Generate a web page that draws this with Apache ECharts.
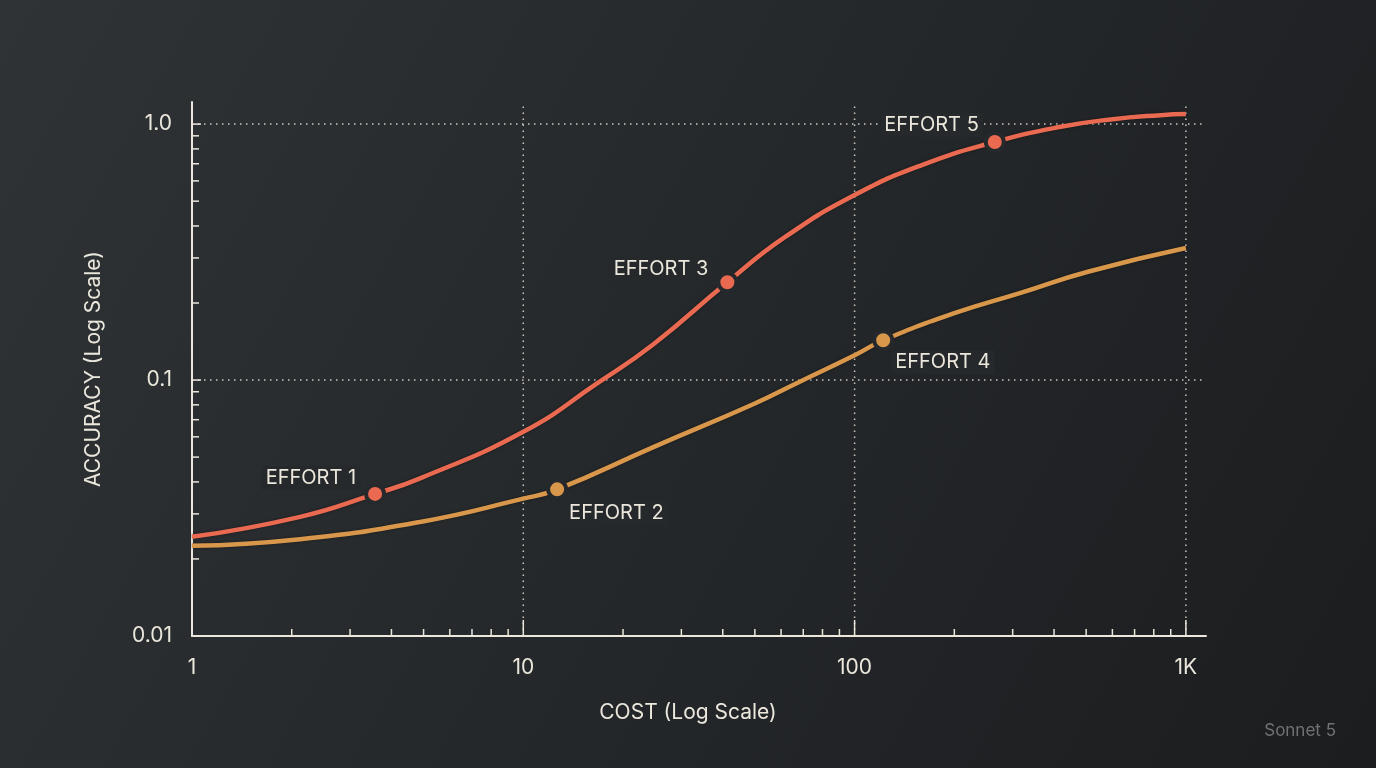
<!DOCTYPE html>
<html>
<head>
<meta charset="utf-8">
<title>Accuracy vs Cost</title>
<script src="https://cdn.jsdelivr.net/npm/echarts@6/dist/echarts.min.js"></script>
<style>
    html, body { margin: 0; padding: 0; background: #25282b; }
    #chart { width: 1376px; height: 768px; }
</style>
</head>
<body>
<div id="chart"></div>
<script>
// 紅色曲線（上）
var redCost = [1, 2.12, 3.57, 4.88, 10, 16.7, 24.7, 41.3, 61.1, 100, 161, 265, 419, 593, 840, 1000];
var redAcc = [0.0244, 0.0292, 0.0359, 0.0413, 0.0628, 0.097, 0.138, 0.241, 0.359, 0.528, 0.695, 0.851, 0.976, 1.043, 1.084, 1.094];

// 橙色曲線（下）
var orangeCost = [1, 2.12, 4.88, 10, 12.65, 24.7, 49.6, 67.1, 100, 122, 199, 317, 506, 1000];
var orangeAcc = [0.0225, 0.0239, 0.0279, 0.0344, 0.0374, 0.0547, 0.0806, 0.0974, 0.125, 0.143, 0.182, 0.219, 0.265, 0.328];

// effort 標記點
var effortNames = ['EFFORT 1', 'EFFORT 2', 'EFFORT 3', 'EFFORT 4', 'EFFORT 5'];
var effortCost = [3.57, 12.65, 41.3, 122, 265];
var effortAcc = [0.0359, 0.0374, 0.241, 0.143, 0.851];
var effortLine = ['red', 'orange', 'red', 'orange', 'red'];

// 刻度
var xMajor = [10, 100, 1000];
var xMinor = [2, 3, 4, 5, 6, 7, 8, 9, 20, 30, 40, 50, 60, 70, 80, 90, 200, 300, 400, 500, 600, 700, 800, 900];
var yMajor = [0.1, 1.0];
var yMinor = [0.02, 0.03, 0.04, 0.05, 0.06, 0.07, 0.08, 0.09, 0.2, 0.3, 0.4, 0.5, 0.6, 0.7, 0.8, 0.9];
var xLabels = { 0: '1', 1: '10', 2: '100', 3: '1K' };
var yLabels = { '-2': '0.01', '-1': '0.1', 0: '1.0' };

var X_MIN = 1, X_MAX = 1150, Y_MIN = 0.01, Y_MAX = 1.22;

var colors = { red: '#ea6a51', orange: '#d9974b' };
var ink = '#ebe7dc';
var bgMid = '#26292b';
var font = 'Inter, Roboto, sans-serif';

// label 的偏移
var labelPlace = {
    'EFFORT 1': { position: 'left', offset: [-4, -16] },
    'EFFORT 2': { position: 'right', offset: [-3, 24] },
    'EFFORT 3': { position: 'left', offset: [-4, -13] },
    'EFFORT 4': { position: 'right', offset: [-3, 22] },
    'EFFORT 5': { position: 'left', offset: [-1, -17] }
};

function powerLabel(table) {
    return function (v) {
        var e = Math.log10(v);
        var r = Math.round(e);
        if (Math.abs(e - r) > 1e-6) return '';
        return table[r] || '';
    };
}

function zip(a, b) {
    return a.map(function (v, i) { return [v, b[i]]; });
}

// 自己畫刻度與網格（log 軸兩端不是 10 的次方）
function lineSeries(data, build, style, z) {
    return {
        type: 'custom',
        silent: true,
        z: z,
        data: data,
        renderItem: function (params, api) {
            var s = build(api);
            return { type: 'line', shape: s, style: style };
        }
    };
}

var gridStyle = { stroke: 'rgba(232,228,218,0.85)', lineWidth: 1.5, lineDash: [1.5, 4.5] };
var tickStyle = { stroke: ink, lineWidth: 1.5 };

function xGrid() {
    return lineSeries(xMajor.map(function (v) { return [v, Y_MIN]; }), function (api) {
        var a = api.coord([api.value(0), Y_MIN]), b = api.coord([api.value(0), Y_MAX]);
        return { x1: a[0], y1: a[1], x2: b[0], y2: b[1] };
    }, gridStyle, 1);
}
function yGrid() {
    return lineSeries(yMajor.map(function (v) { return [X_MIN, v]; }), function (api) {
        var a = api.coord([X_MIN, api.value(1)]), b = api.coord([X_MAX, api.value(1)]);
        return { x1: a[0], y1: a[1], x2: b[0], y2: b[1] };
    }, gridStyle, 1);
}
function xTicks(values, len) {
    return lineSeries(values.map(function (v) { return [v, Y_MIN]; }), function (api) {
        var a = api.coord([api.value(0), Y_MIN]);
        return { x1: a[0], y1: a[1], x2: a[0], y2: a[1] - len };
    }, tickStyle, 2);
}
function yTicks(values, len) {
    return lineSeries(values.map(function (v) { return [X_MIN, v]; }), function (api) {
        var a = api.coord([X_MIN, api.value(1)]);
        return { x1: a[0], y1: a[1], x2: a[0] + len, y2: a[1] };
    }, tickStyle, 2);
}

function curve(cost, acc, color) {
    return {
        type: 'line',
        data: zip(cost, acc),
        smooth: 0.5,
        showSymbol: false,
        symbol: 'none',
        silent: true,
        z: 3,
        lineStyle: {
            color: color,
            width: 4.5,
            shadowColor: 'rgba(0,0,0,0.45)',
            shadowBlur: 3
        }
    };
}

function efforts() {
    return {
        type: 'scatter',
        z: 5,
        symbolSize: 18,
        silent: true,
        data: effortNames.map(function (name, i) {
            var p = labelPlace[name];
            return {
                name: name,
                value: [effortCost[i], effortAcc[i]],
                itemStyle: { color: colors[effortLine[i]] },
                label: {
                    show: true,
                    formatter: name,
                    position: p.position,
                    offset: p.offset,
                    distance: 0
                }
            };
        }),
        itemStyle: { borderColor: bgMid, borderWidth: 4, opacity: 1 },
        label: {
            color: ink,
            fontFamily: font,
            fontSize: 20,
            backgroundColor: bgMid,
            padding: [2, 4]
        }
    };
}

var myChart = echarts.init(document.getElementById('chart'), null, { renderer: 'canvas' });
var option = {
    animation: false,
    backgroundColor: {
        type: 'linear', x: 0, y: 0, x2: 1, y2: 1,
        colorStops: [
            { offset: 0, color: '#2f3336' },
            { offset: 1, color: '#1b1d1f' }
        ]
    },
    textStyle: { fontFamily: font },
    grid: { left: 192, right: 170, top: 102, bottom: 132 },
    xAxis: {
        type: 'log',
        logBase: 10,
        min: X_MIN,
        max: X_MAX,
        name: 'COST (Log Scale)',
        nameLocation: 'middle',
        nameGap: 66,
        nameTextStyle: { color: ink, fontSize: 21, fontFamily: font, padding: [0, 22, 0, 0] },
        axisLine: { lineStyle: { color: ink, width: 2 } },
        axisTick: { show: false },
        splitLine: { show: false },
        axisLabel: { color: ink, fontSize: 21, fontFamily: font, margin: 21, formatter: powerLabel(xLabels) }
    },
    yAxis: {
        type: 'log',
        logBase: 10,
        min: Y_MIN,
        max: Y_MAX,
        name: 'ACCURACY (Log Scale)',
        nameLocation: 'middle',
        nameGap: 88,
        nameTextStyle: { color: ink, fontSize: 21, fontFamily: font },
        axisLine: { lineStyle: { color: ink, width: 2 } },
        axisTick: { show: false },
        splitLine: { show: false },
        axisLabel: { color: ink, fontSize: 21, fontFamily: font, margin: 20, formatter: powerLabel(yLabels) }
    },
    graphic: [{
        type: 'text',
        right: 40,
        top: 722,
        style: { text: 'Sonnet 5', fill: '#707274', font: '17px ' + font }
    }],
    series: [
        xGrid(),
        yGrid(),
        xTicks(xMajor, 16),
        xTicks(xMinor, 7),
        yTicks(yMajor, 9),
        yTicks(yMinor, 7),
        curve(redCost, redAcc, colors.red),
        curve(orangeCost, orangeAcc, colors.orange),
        efforts()
    ]
};
myChart.setOption(option);
</script>
</body>
</html>
